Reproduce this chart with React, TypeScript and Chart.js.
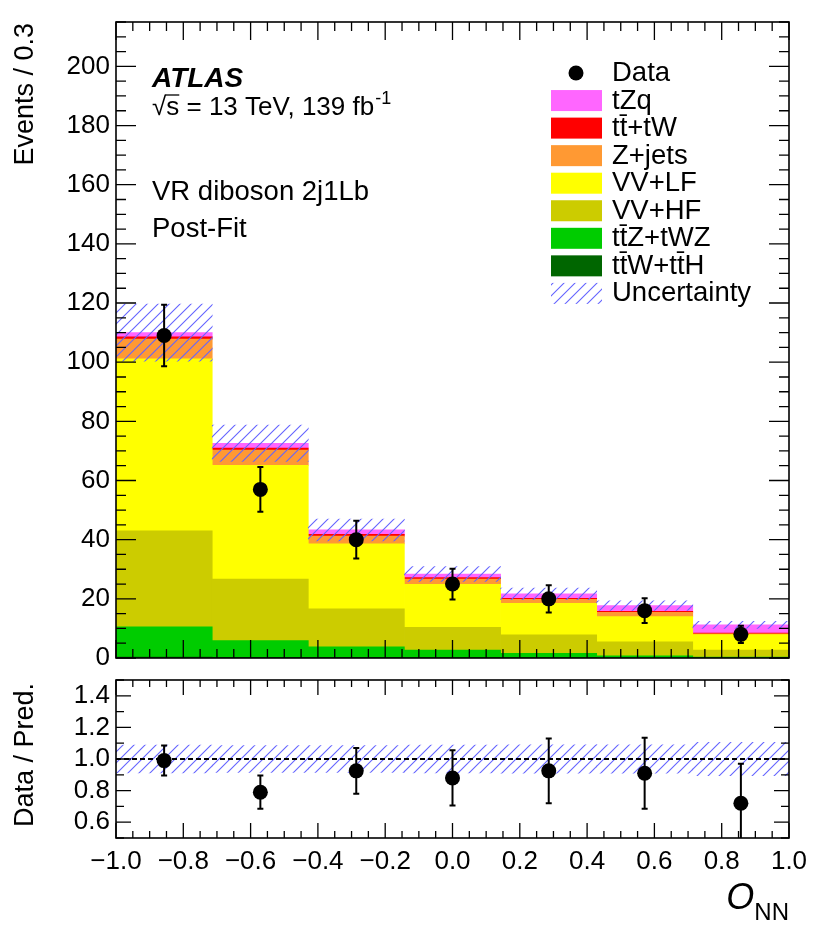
import { useEffect, useRef } from "react"
import { Chart, registerables } from "chart.js"

Chart.register(...registerables)

const FONT = "'Liberation Sans', Arial, Helvetica, sans-serif"

// O_NN bins (7 bins between -1 and 1)
const BIN_CENTERS = [-0.857, -0.571, -0.286, 0.0, 0.286, 0.571, 0.857]

// post-fit backgrounds, bottom of the stack first
const TTW_TTH = [0.3, 0.2, 0.2, 0.1, 0.1, 0.05, 0.05]
const TTZ_TWZ = [10.2, 5.7, 3.6, 2.6, 1.5, 0.65, 0.25]
const VV_HF = [32.5, 20.8, 12.8, 7.7, 6.2, 4.8, 2.4]
const VV_LF = [58.1, 38.4, 22.0, 14.5, 10.7, 8.5, 5.2]
const Z_JETS = [6.7, 5.2, 2.6, 1.8, 1.3, 1.4, 0.3]
const TT_TW = [0.8, 0.7, 0.6, 0.5, 0.4, 0.4, 0.2]
const TZQ = [1.4, 1.6, 1.5, 1.2, 1.5, 1.9, 2.8]

// relative uncertainty of the prediction
const UNC_REL = [0.088, 0.085, 0.085, 0.088, 0.09, 0.09, 0.105]

const DATA = [109, 57, 40, 25, 20, 16, 8]
const DATA_ERR = [10.4, 7.6, 6.4, 5.2, 4.6, 4.2, 2.9]

const RATIO = [0.99, 0.79, 0.925, 0.88, 0.925, 0.91, 0.72]
const RATIO_ERR = [0.095, 0.105, 0.145, 0.175, 0.205, 0.225, 0.25]

const X_TICKS = [-1.0, -0.8, -0.6, -0.4, -0.2, 0.0, 0.2, 0.4, 0.6, 0.8, 1.0]
const Y_TICKS_MAIN = [0, 20, 40, 60, 80, 100, 120, 140, 160, 180, 200]
const Y_TICKS_RATIO = [0.6, 0.8, 1.0, 1.2, 1.4]

const STACK = [
  { label: "tt\u0304W+tt\u0304H", values: TTW_TTH, color: "#006600" },
  { label: "tt\u0304Z+tWZ", values: TTZ_TWZ, color: "#00cc00" },
  { label: "VV+HF", values: VV_HF, color: "#cccc00" },
  { label: "VV+LF", values: VV_LF, color: "#ffff00" },
  { label: "Z+jets", values: Z_JETS, color: "#ff9933" },
  { label: "tt\u0304+tW", values: TT_TW, color: "#ff0000" },
  { label: "tZq", values: TZQ, color: "#ff66ff" },
]

function makeHatch() {
  const c = document.createElement("canvas")
  c.width = 11
  c.height = 11
  const g = c.getContext("2d")!
  g.strokeStyle = "rgb(100,100,255)"
  g.lineWidth = 1.1
  g.beginPath()
  g.moveTo(0, 11)
  g.lineTo(11, 0)
  g.moveTo(-1, 1)
  g.lineTo(1, -1)
  g.moveTo(10, 12)
  g.lineTo(12, 10)
  g.stroke()
  return g.createPattern(c, "repeat")!
}

const fmt = (v: number, d: number) => v.toFixed(d).replace("-", "\u2212")

// pin an axis to a fixed size and drop the label overhang padding
const fixSize = (dim: "width" | "height", size: number) => (s: any) => {
  s[dim] = size
  s.paddingTop = 0
  s.paddingBottom = 0
  s.paddingLeft = 0
  s.paddingRight = 0
}

// inward ticks on all four sides plus the frame
function drawFrame(chart: Chart, yValues: number[], yMajor: number[], xLen: number[], yLen: number[]) {
  const { ctx, chartArea: a } = chart
  const xs = chart.scales.x
  const ys = chart.scales.y
  ctx.save()
  ctx.strokeStyle = "#000"
  ctx.lineWidth = 1.3
  ctx.beginPath()
  for (let i = 0; i <= 40; i++) {
    const px = xs.getPixelForValue(-1 + i * 0.05)
    const len = i % 4 === 0 ? xLen[0] : xLen[1]
    ctx.moveTo(px, a.bottom)
    ctx.lineTo(px, a.bottom - len)
    ctx.moveTo(px, a.top)
    ctx.lineTo(px, a.top + len)
  }
  for (const v of yValues) {
    const py = ys.getPixelForValue(v)
    const len = yMajor.some((m) => Math.abs(m - v) < 1e-6) ? yLen[0] : yLen[1]
    ctx.moveTo(a.left, py)
    ctx.lineTo(a.left + len, py)
    ctx.moveTo(a.right, py)
    ctx.lineTo(a.right - len, py)
  }
  ctx.stroke()
  ctx.lineWidth = 1.6
  ctx.strokeRect(a.left, a.top, a.right - a.left, a.bottom - a.top)
  ctx.restore()
}

function drawErrors(chart: Chart, ys: number[], errs: number[]) {
  const { ctx, chartArea: a } = chart
  const xs = chart.scales.x
  const yScale = chart.scales.y
  ctx.save()
  ctx.beginPath()
  ctx.rect(a.left, a.top, a.right - a.left, a.bottom - a.top)
  ctx.clip()
  ctx.strokeStyle = "#000"
  ctx.lineWidth = 2
  ctx.beginPath()
  ys.forEach((v, i) => {
    const px = xs.getPixelForValue(BIN_CENTERS[i])
    const top = yScale.getPixelForValue(v + errs[i])
    const bot = yScale.getPixelForValue(v - errs[i])
    ctx.moveTo(px, top)
    ctx.lineTo(px, bot)
    ctx.moveTo(px - 3, top)
    ctx.lineTo(px + 3, top)
    ctx.moveTo(px - 3, bot)
    ctx.lineTo(px + 3, bot)
  })
  ctx.stroke()
  ctx.restore()
}

function drawVerticalTitle(ctx: CanvasRenderingContext2D, text: string, x: number, yTop: number) {
  ctx.save()
  ctx.translate(x, yTop)
  ctx.rotate(-Math.PI / 2)
  ctx.font = `27px ${FONT}`
  ctx.fillStyle = "#000"
  ctx.textAlign = "right"
  ctx.textBaseline = "alphabetic"
  ctx.fillText(text, 0, 0)
  ctx.restore()
}

// all bars share one group so they sit on top of each other in each bin
const barCommon = {
  type: "bar" as const,
  stack: "all",
  borderWidth: 0,
  barThickness: "flex",
  categoryPercentage: 1,
  barPercentage: 1,
}

export default function App() {
  const mainRef = useRef<HTMLCanvasElement>(null)
  const ratioRef = useRef<HTMLCanvasElement>(null)

  useEffect(() => {
    if (!mainRef.current || !ratioRef.current) return
    Chart.defaults.font.family = FONT
    Chart.defaults.color = "#000"
    const hatch = makeHatch()

    // cumulative stack -> floating bars
    const cum = BIN_CENTERS.map(() => 0)
    const stackSets = STACK.map((s) => ({
      ...barCommon,
      label: s.label,
      data: s.values.map((v, i) => {
        const lo = cum[i]
        cum[i] += v
        return { x: BIN_CENTERS[i], y: [lo, cum[i]] }
      }),
      backgroundColor: s.color,
      order: 2,
    }))
    const total = cum

    const mainDecor = {
      id: "mainDecor",
      afterDatasetsDraw(chart: Chart) {
        drawErrors(chart, DATA, DATA_ERR)
        const yv: number[] = []
        for (let v = 0; v <= 215; v += 5) yv.push(v)
        drawFrame(chart, yv, Y_TICKS_MAIN, [18, 9], [20, 10])
      },
      afterDraw(chart: Chart) {
        const ctx = chart.ctx
        ctx.save()
        ctx.fillStyle = "#000"
        ctx.textAlign = "left"
        ctx.textBaseline = "alphabetic"
        ctx.font = `italic bold 28px ${FONT}`
        ctx.fillText("ATLAS", 152, 87)
        ctx.font = `26px ${FONT}`
        const line = "\u221As = 13 TeV, 139 fb"
        ctx.fillText(line, 152, 115)
        const wSqrt = ctx.measureText("\u221A").width
        const wS = ctx.measureText("s").width
        ctx.lineWidth = 1.3
        ctx.beginPath()
        ctx.moveTo(152 + wSqrt - 1, 95)
        ctx.lineTo(152 + wSqrt + wS, 95)
        ctx.stroke()
        const wLine = ctx.measureText(line).width
        ctx.font = `18px ${FONT}`
        ctx.fillText("-1", 152 + wLine + 1, 104)
        ctx.font = `27.5px ${FONT}`
        ctx.fillText("VR diboson 2j1Lb", 152, 200)
        ctx.fillText("Post-Fit", 152, 237)

        drawVerticalTitle(ctx, "Events / 0.3", 33, 23)

        // legend
        const rows = ["Data", ...STACK.map((s) => s.label).reverse(), "Uncertainty"]
        const colors = ["", ...STACK.map((s) => s.color).reverse(), ""]
        ctx.font = `27.5px ${FONT}`
        rows.forEach((label, i) => {
          const cy = 73 + i * 27.55
          if (i === 0) {
            ctx.beginPath()
            ctx.arc(576, cy, 7.5, 0, Math.PI * 2)
            ctx.fill()
          } else if (label === "Uncertainty") {
            ctx.fillStyle = hatch
            ctx.fillRect(551, cy - 10.5, 51, 21)
          } else {
            ctx.fillStyle = colors[i]
            ctx.fillRect(551, cy - 10.5, 51, 21)
          }
          ctx.fillStyle = "#000"
          ctx.fillText(label, 612, cy + 8)
        })
        ctx.restore()
      },
    }

    const main = new Chart(mainRef.current, {
      type: "bar",
      data: {
        datasets: [
          {
            type: "scatter",
            label: "Data",
            data: DATA.map((v, i) => ({ x: BIN_CENTERS[i], y: v })),
            backgroundColor: "#000",
            borderWidth: 0,
            pointRadius: 7.5,
            order: 0,
          },
          {
            ...barCommon,
            label: "Uncertainty",
            data: total.map((t, i) => ({ x: BIN_CENTERS[i], y: [t * (1 - UNC_REL[i]), t * (1 + UNC_REL[i])] })),
            backgroundColor: hatch,
            order: 1,
          },
          ...stackSets,
        ],
      } as any,
      options: {
        responsive: false,
        animation: false,
        events: [],
        layout: { padding: { top: 22, right: 41, left: 0, bottom: 0 } },
        plugins: { legend: { display: false }, tooltip: { enabled: false } },
        scales: {
          x: {
            type: "linear",
            min: -1,
            max: 1,
            offset: false,
            stacked: true,
            grid: { display: false, drawTicks: false },
            border: { display: false },
            ticks: { display: false },
            afterFit: fixSize("height", 12),
          },
          y: {
            min: 0,
            max: 215,
            stacked: false,
            grid: { display: false, drawTicks: false },
            border: { display: false },
            ticks: { font: { size: 26 }, padding: 6, callback: (v: any) => String(v) },
            afterBuildTicks: (s: any) => {
              s.ticks = Y_TICKS_MAIN.map((v) => ({ value: v }))
            },
            afterFit: fixSize("width", 116),
          },
        },
      } as any,
      plugins: [mainDecor],
    })

    const ratioDecor = {
      id: "ratioDecor",
      afterDatasetsDraw(chart: Chart) {
        drawErrors(chart, RATIO, RATIO_ERR)
        const yv: number[] = []
        for (let i = 0; i <= 10; i++) yv.push(0.5 + i * 0.1)
        drawFrame(chart, yv, Y_TICKS_RATIO, [15, 7], [15, 8])
      },
      afterDraw(chart: Chart) {
        const ctx = chart.ctx
        drawVerticalTitle(ctx, "Data / Pred.", 33, 13)
        ctx.save()
        ctx.fillStyle = "#000"
        ctx.textBaseline = "alphabetic"
        ctx.textAlign = "left"
        ctx.font = `24px ${FONT}`
        const wNN = ctx.measureText("NN").width
        ctx.font = `italic 36px ${FONT}`
        const wO = ctx.measureText("O").width
        const x0 = 789 - wNN - wO
        ctx.fillText("O", x0, 239)
        ctx.font = `24px ${FONT}`
        ctx.fillText("NN", x0 + wO, 250)
        ctx.restore()
      },
    }

    const ratio = new Chart(ratioRef.current, {
      type: "bar",
      data: {
        datasets: [
          {
            type: "scatter",
            label: "Data / Pred.",
            data: RATIO.map((v, i) => ({ x: BIN_CENTERS[i], y: v })),
            backgroundColor: "#000",
            borderWidth: 0,
            pointRadius: 7.5,
            order: 0,
          },
          {
            type: "line",
            label: "unity",
            data: [
              { x: -1, y: 1 },
              { x: 1, y: 1 },
            ],
            borderColor: "#000",
            borderWidth: 2,
            borderDash: [5, 3],
            pointRadius: 0,
            order: 1,
          },
          {
            ...barCommon,
            label: "Uncertainty",
            data: UNC_REL.map((u, i) => ({ x: BIN_CENTERS[i], y: [1 - u, 1 + u] })),
            backgroundColor: hatch,
            order: 2,
          },
        ],
      } as any,
      options: {
        responsive: false,
        animation: false,
        events: [],
        layout: { padding: { top: 10, right: 41, left: 0, bottom: 0 } },
        plugins: { legend: { display: false }, tooltip: { enabled: false } },
        scales: {
          x: {
            type: "linear",
            min: -1,
            max: 1,
            offset: false,
            stacked: true,
            grid: { display: false, drawTicks: false },
            border: { display: false },
            ticks: {
              font: { size: 26 },
              padding: 8,
              autoSkip: false,
              maxRotation: 0,
              minRotation: 0,
              callback: (v: any) => fmt(Number(v), 1),
            },
            afterBuildTicks: (s: any) => {
              s.ticks = X_TICKS.map((v) => ({ value: v }))
            },
            afterFit: fixSize("height", 98),
          },
          y: {
            min: 0.5,
            max: 1.5,
            stacked: false,
            grid: { display: false, drawTicks: false },
            border: { display: false },
            ticks: { font: { size: 26 }, padding: 6, callback: (v: any) => fmt(Number(v), 1) },
            afterBuildTicks: (s: any) => {
              s.ticks = Y_TICKS_RATIO.map((v) => ({ value: v }))
            },
            afterFit: fixSize("width", 116),
          },
        },
      } as any,
      plugins: [ratioDecor],
    })

    return () => {
      main.destroy()
      ratio.destroy()
    }
  }, [])

  return (
    <div style={{ position: "absolute", left: 0, top: 0, width: 830, height: 936, background: "#fff" }}>
      <canvas ref={mainRef} width={830} height={670} style={{ position: "absolute", left: 0, top: 0 }} />
      <canvas ref={ratioRef} width={830} height={266} style={{ position: "absolute", left: 0, top: 670 }} />
    </div>
  )
}
